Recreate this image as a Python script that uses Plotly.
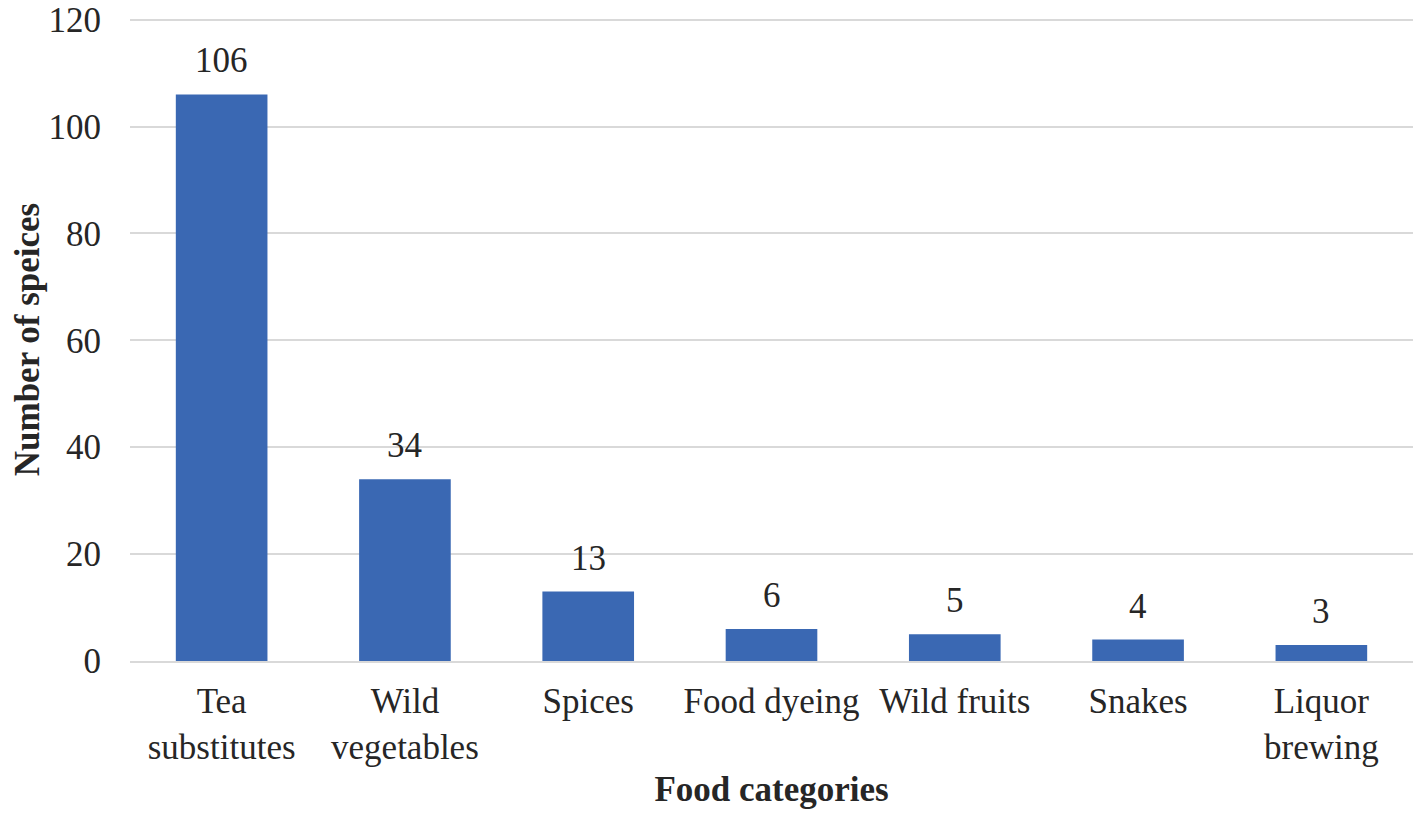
import plotly.graph_objects as go

categories = ["Tea<br>substitutes", "Wild<br>vegetables", "Spices", "Food dyeing",
              "Wild fruits", "Snakes", "Liquor<br>brewing"]
species = [106, 34, 13, 6, 5, 4, 3]
y_ticks = [0, 20, 40, 60, 80, 100, 120]

font_name = "Liberation Serif"
text_col = "#262626"

fig = go.Figure()
fig.add_trace(go.Bar(
    x=categories, y=species,
    marker=dict(color="#3A68B3", line=dict(width=0)),
    hoverinfo="x+y",
))

# value labels above each bar
for c, v in zip(categories, species):
    fig.add_annotation(x=c, y=v, text=str(v), showarrow=False,
                       yanchor="bottom", yshift=12,
                       font=dict(family=font_name, size=35, color=text_col))

# page has an 8px body margin, so the figure is a bit smaller than the window
fig.update_layout(
    width=1405, height=801,
    margin=dict(l=122, r=0, t=10, b=148),
    plot_bgcolor="white", paper_bgcolor="white",
    bargap=0.5,
    showlegend=False,
    font=dict(family=font_name, size=35, color=text_col),
)
fig.update_xaxes(
    showgrid=False, showline=True, linecolor="#D9D9D9", linewidth=2,
    ticks="", ticklabelstandoff=8, automargin=False,
    title=dict(text="<b>Food categories</b>", standoff=18,
               font=dict(family=font_name, size=35, color=text_col)),
)
fig.update_yaxes(
    range=[0, 120.3], tickvals=y_ticks, showgrid=True,
    gridcolor="#D9D9D9", gridwidth=2, zeroline=False,
    ticks="", ticklabelstandoff=28, ticklabeloverflow="allow", automargin=False,
    title=dict(text="<b>Number of speices</b>", standoff=6,
               font=dict(family=font_name, size=35, color=text_col)),
)

fig.write_html("out.html")
